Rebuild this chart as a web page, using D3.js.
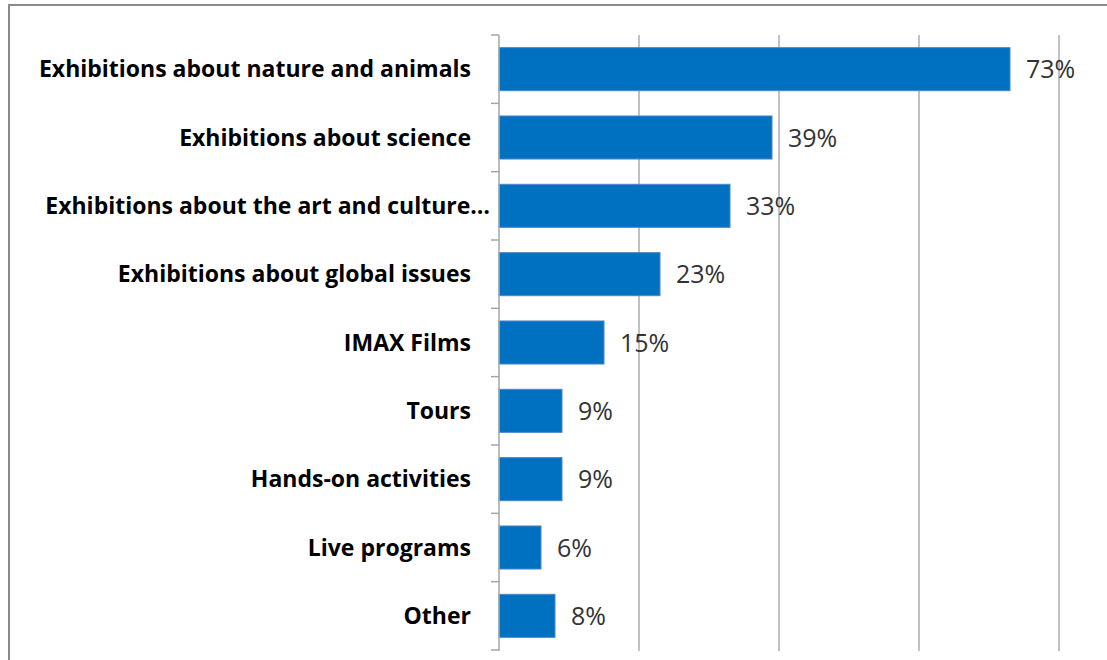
<!DOCTYPE html>
<html><head><meta charset="utf-8">
<script src="https://cdn.jsdelivr.net/npm/d3@7"></script>
<style>body{margin:0;background:#fff;} svg{display:block;}</style>
</head><body>
<svg id="c" width="1107" height="660"></svg>
<script>
const categories = ["Exhibitions about nature and animals","Exhibitions about science","Exhibitions about the art and culture…","Exhibitions about global issues","IMAX Films","Tours","Hands-on activities","Live programs","Other"];
const values = [73,39,33,23,15,9,9,6,8];
const gridTicks = [20,40,60,80];
const truncated = [false,false,true,false,false,false,false,false,false];

const svg = d3.select("#c");
const x = d3.scaleLinear().domain([0,80]).range([499,1059]);
const y = d3.scaleBand().domain(categories).range([35,650]).paddingInner(0.37).paddingOuter(0.185);

// frame
svg.append("path").attr("d","M9,660 L9,5 L1107,5").attr("fill","none").attr("stroke","#8a8a8a").attr("stroke-width",2);

// gridlines
svg.selectAll("line.grid").data(gridTicks).join("line")
  .attr("x1",d=>x(d)).attr("x2",d=>x(d)).attr("y1",35).attr("y2",651)
  .attr("stroke","#acacac").attr("stroke-width",1.5);

// bars
svg.selectAll("rect.bar").data(values).join("rect")
  .attr("x",x(0)).attr("y",(d,i)=>y(categories[i]))
  .attr("width",d=>x(d)-x(0)).attr("height",y.bandwidth())
  .attr("fill","#0070c0").attr("stroke","#4f86c6").attr("stroke-width",1);

// axis line and ticks
svg.append("line").attr("x1",x(0)).attr("x2",x(0)).attr("y1",35).attr("y2",651).attr("stroke","#a6a6a6").attr("stroke-width",1.5);
const off = (y.step()-y.bandwidth())/2;
const bounds = categories.map(c=>y(c)-off).concat([y(categories[categories.length-1])+y.bandwidth()+off]);
svg.selectAll("line.tick").data(bounds).join("line")
  .attr("x1",x(0)-8).attr("x2",x(0)).attr("y1",d=>d).attr("y2",d=>d)
  .attr("stroke","#a6a6a6").attr("stroke-width",1.5);

// category labels
svg.selectAll("text.cat").data(categories).join("text")
  .attr("x",(d,i)=>truncated[i]?490:471).attr("y",d=>y(d)+y.bandwidth()/2)
  .attr("dy","0.35em").attr("text-anchor","end")
  .attr("font-family","'Open Sans', sans-serif").attr("font-weight","bold").attr("font-size",23)
  .attr("fill","#000").text(d=>d);

// value labels
svg.selectAll("text.val").data(values).join("text")
  .attr("x",d=>x(d)+16).attr("y",(d,i)=>y(categories[i])+y.bandwidth()/2)
  .attr("dy","0.36em")
  .attr("font-family","'Open Sans', sans-serif").attr("font-size",25)
  .attr("fill","#333").text(d=>d+"%");
</script>
</body></html>
